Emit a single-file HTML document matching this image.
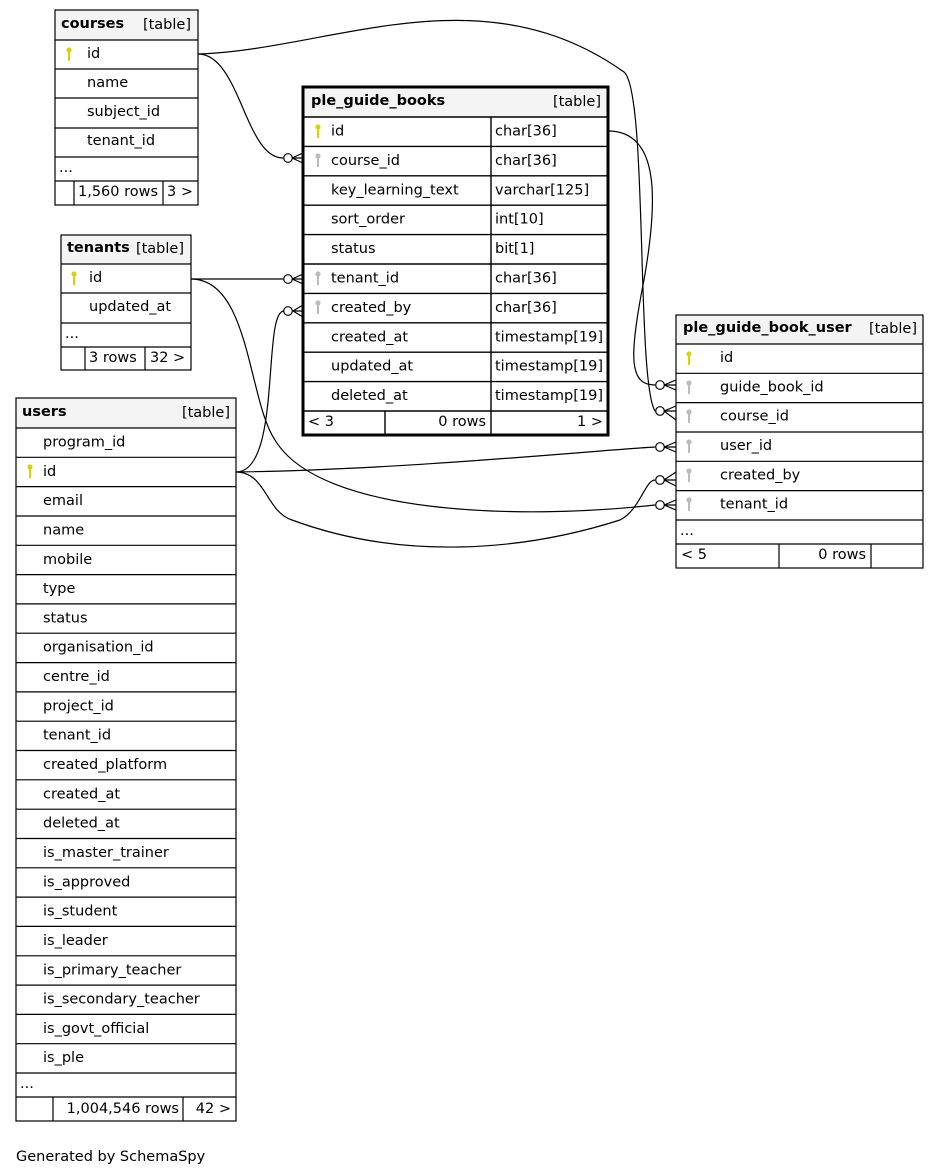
<!DOCTYPE html>
<html><head><meta charset="utf-8"><style>
html,body{margin:0;padding:0;background:#fff;}
svg{display:block;}
text{font-family:"DejaVu Sans","Liberation Sans",sans-serif;font-size:14.5px;fill:#000;}
.b{font-weight:bold;}
</style></head><body>
<svg width="940" height="1176" viewBox="0 0 940 1176" xmlns="http://www.w3.org/2000/svg">
<defs>
<g id="ky"><circle cx="0" cy="-6" r="2.6" fill="#d4d400"/><rect x="-1" y="-5" width="2" height="10" fill="#d4d400"/></g>
<g id="kg"><circle cx="0" cy="-6" r="2.6" fill="#bbb"/><rect x="-1" y="-5" width="2" height="10" fill="#bbb"/></g>
</defs>

<!-- connectors -->
<g fill="none" stroke="#000" stroke-width="1.2">
<path d="M198,54 C240,54 245,158 283,158"/>
<path d="M198,54 C330,50 480,-30 624,72 C648,92 636,380 655,411"/>
<path d="M608,131 C660,131 658,200 644,280 C628,360 630,385 655,385"/>
<path d="M191,279 L283,279"/>
<path d="M191,279 C250,279 248,400 275,440 C320,515 520,520 655,505"/>
<path d="M236,472 C282,472 262,311 284,311"/>
<path d="M236,472 C400,470 600,450 655,447"/>
<path d="M236,472 C266,472 266,512 292,520 C400,560 520,552 620,520 C640,510 645,480 655,480"/>
<!-- crow feet -->
<path d="M292,158 L303,153 M292,158 L303,158 M292,158 L303,163"/>
<path d="M292,279 L303,274 M292,279 L303,279 M292,279 L303,284"/>
<path d="M293,311 L303,305 M293,311 L303,311 M293,311 L303,317"/>
<path d="M664,385 L676,380 M664,385 L676,385 M664,385 L676,390"/>
<path d="M664,411 L676,406 M664,411 L676,411 M664,411 L676,420"/>
<path d="M664,447 L676,442 M664,447 L676,447 M664,447 L676,452"/>
<path d="M664,480 L676,472 M664,480 L676,480 M664,480 L676,486"/>
<path d="M664,505 L676,500 M664,505 L676,505 M664,505 L676,510"/>
</g>
<g fill="#fff" stroke="#000" stroke-width="1.2">
<circle cx="288" cy="158" r="4.3"/><circle cx="288" cy="279" r="4.3"/><circle cx="288" cy="311" r="4.3"/>
<circle cx="660" cy="385" r="4.3"/><circle cx="660" cy="411" r="4.3"/><circle cx="660" cy="447" r="4.3"/>
<circle cx="660" cy="480" r="4.3"/><circle cx="660" cy="505" r="4.3"/>
</g>

<!-- courses -->
<rect x="55" y="10" width="143" height="30" fill="#f4f4f4"/>
<rect x="55" y="10" width="143" height="195" fill="none" stroke="#000" stroke-width="1.2"/>
<path d="M55,40H198M55,69H198M55,98H198M55,128H198M55,157H198M55,181H198M74,181V205M163,181V205" stroke="#000" stroke-width="1.2"/>
<text x="61" y="28" class="b">courses</text><text x="191" y="29" text-anchor="end">[table]</text>
<use href="#ky" x="69" y="56"/>
<text x="87" y="58">id</text><text x="87" y="87">name</text><text x="87" y="116">subject_id</text><text x="87" y="145">tenant_id</text>
<text x="59" y="172">...</text><text x="78" y="196">1,560 rows</text><text x="167" y="196">3 &gt;</text>

<!-- tenants -->
<rect x="61" y="235" width="130" height="29" fill="#f4f4f4"/>
<rect x="61" y="235" width="130" height="135" fill="none" stroke="#000" stroke-width="1.2"/>
<path d="M61,264H191M61,293H191M61,323H191M61,347H191M85,347V370M145,347V370" stroke="#000" stroke-width="1.2"/>
<text x="67" y="252" class="b">tenants</text><text x="184" y="253" text-anchor="end">[table]</text>
<use href="#ky" x="74" y="280"/>
<text x="89" y="282">id</text><text x="89" y="311">updated_at</text>
<text x="65" y="338">...</text><text x="89" y="362">3 rows</text><text x="150" y="362">32 &gt;</text>

<!-- users -->
<rect x="16" y="398" width="220" height="30" fill="#f4f4f4"/>
<rect x="16" y="398" width="220" height="723" fill="none" stroke="#000" stroke-width="1.2"/>
<path d="M16,428H236M16,457.3H236M16,486.6H236M16,516H236M16,545.3H236M16,574.6H236M16,603.9H236M16,633.2H236M16,662.6H236M16,691.9H236M16,721.2H236M16,750.5H236M16,779.8H236M16,809.2H236M16,838.5H236M16,867.8H236M16,897.1H236M16,926.4H236M16,955.8H236M16,985.1H236M16,1014.4H236M16,1043.7H236M16,1073H236M16,1097H236M53,1097V1121M183,1097V1121" stroke="#000" stroke-width="1.2"/>
<text x="22" y="416" class="b">users</text><text x="230" y="417" text-anchor="end">[table]</text>
<use href="#ky" x="30" y="473"/>
<text x="43" y="446.5">program_id</text>
<text x="43" y="475.8">id</text>
<text x="43" y="505.1">email</text>
<text x="43" y="534.5">name</text>
<text x="43" y="563.8">mobile</text>
<text x="43" y="593.1">type</text>
<text x="43" y="622.4">status</text>
<text x="43" y="651.7">organisation_id</text>
<text x="43" y="681.1">centre_id</text>
<text x="43" y="710.4">project_id</text>
<text x="43" y="739.7">tenant_id</text>
<text x="43" y="769">created_platform</text>
<text x="43" y="798.3">created_at</text>
<text x="43" y="827.7">deleted_at</text>
<text x="43" y="857">is_master_trainer</text>
<text x="43" y="886.3">is_approved</text>
<text x="43" y="915.6">is_student</text>
<text x="43" y="944.9">is_leader</text>
<text x="43" y="974.3">is_primary_teacher</text>
<text x="43" y="1003.6">is_secondary_teacher</text>
<text x="43" y="1032.9">is_govt_official</text>
<text x="43" y="1062.2">is_ple</text>
<text x="20" y="1088">...</text>
<text x="179" y="1113" text-anchor="end">1,004,546 rows</text><text x="231" y="1113" text-anchor="end">42 &gt;</text>

<!-- ple_guide_books -->
<rect x="303" y="87" width="305" height="30" fill="#f4f4f4"/>
<rect x="303" y="87" width="305" height="348" fill="none" stroke="#000" stroke-width="3"/>
<path d="M303,117H608M303,146.4H608M303,175.8H608M303,205.2H608M303,234.6H608M303,264H608M303,293.4H608M303,322.8H608M303,352.2H608M303,381.6H608M303,411H608M491,117V435M385,411V435" stroke="#000" stroke-width="1.4"/>
<text x="311" y="105" class="b">ple_guide_books</text><text x="601" y="106" text-anchor="end">[table]</text>
<use href="#ky" x="318" y="133"/><use href="#kg" x="318" y="162"/><use href="#kg" x="318" y="280"/><use href="#kg" x="318" y="309"/>
<text x="331" y="135.5">id</text><text x="495" y="135.5">char[36]</text>
<text x="331" y="164.9">course_id</text><text x="495" y="164.9">char[36]</text>
<text x="331" y="194.3">key_learning_text</text><text x="495" y="194.3">varchar[125]</text>
<text x="331" y="223.7">sort_order</text><text x="495" y="223.7">int[10]</text>
<text x="331" y="253.1">status</text><text x="495" y="253.1">bit[1]</text>
<text x="331" y="282.5">tenant_id</text><text x="495" y="282.5">char[36]</text>
<text x="331" y="311.9">created_by</text><text x="495" y="311.9">char[36]</text>
<text x="331" y="341.3">created_at</text><text x="495" y="341.3">timestamp[19]</text>
<text x="331" y="370.7">updated_at</text><text x="495" y="370.7">timestamp[19]</text>
<text x="331" y="400.1">deleted_at</text><text x="495" y="400.1">timestamp[19]</text>
<text x="308" y="426">&lt; 3</text><text x="486" y="426" text-anchor="end">0 rows</text><text x="603" y="426" text-anchor="end">1 &gt;</text>

<!-- ple_guide_book_user -->
<rect x="676" y="315" width="247" height="29" fill="#f4f4f4"/>
<rect x="676" y="315" width="247" height="253" fill="none" stroke="#000" stroke-width="1.2"/>
<path d="M676,344H923M676,373.3H923M676,402.6H923M676,432H923M676,461.3H923M676,490.6H923M676,520H923M676,544H923M779,544V568M871,544V568" stroke="#000" stroke-width="1.2"/>
<text x="683" y="332" class="b">ple_guide_book_user</text><text x="917" y="333" text-anchor="end">[table]</text>
<use href="#ky" x="689" y="360"/><use href="#kg" x="689" y="389"/><use href="#kg" x="689" y="418"/><use href="#kg" x="689" y="448"/><use href="#kg" x="689" y="477"/><use href="#kg" x="689" y="506"/>
<text x="720" y="362">id</text>
<text x="720" y="391.3">guide_book_id</text>
<text x="720" y="420.6">course_id</text>
<text x="720" y="450">user_id</text>
<text x="720" y="479.3">created_by</text>
<text x="720" y="508.6">tenant_id</text>
<text x="680" y="535">...</text>
<text x="681" y="559">&lt; 5</text><text x="866" y="559" text-anchor="end">0 rows</text>

<text x="16" y="1161">Generated by SchemaSpy</text>
</svg>
</body></html>
